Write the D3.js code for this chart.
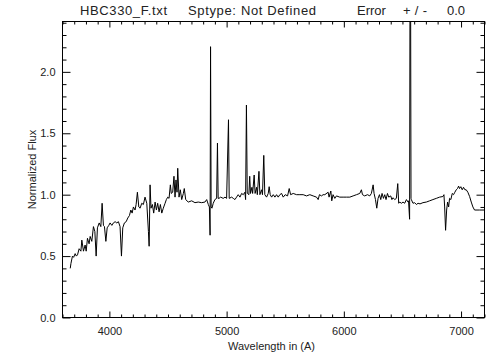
<!DOCTYPE html>
<html>
<head>
<meta charset="utf-8">
<script src="https://cdn.jsdelivr.net/npm/d3@7"></script>
<style>
  html, body { margin: 0; padding: 0; background: #fff; }
  svg { display: block; font-family: "Liberation Sans", Arial, Helvetica, sans-serif; }
</style>
</head>
<body>
<svg id="chart" width="504" height="360"></svg>
<script>
// ---- data ----
const titleParts = ["HBC330_F.txt", "Sptype: Not Defined", "Error", "+/-", "0.0"];
const xLabel = "Wavelength in (A)";
const yLabel = "Normalized Flux";
const xMajorTicks = [4000, 5000, 6000, 7000];
const yMajorTicks = [0.0, 0.5, 1.0, 1.5, 2.0];

const wavelength = [
  3666,3672,3685,3695,3708,3718,3728,3742,3757,3765,3779,3793,3802,3813,3827,3836,3850,3864,3876,3887,
  3898,3913,3927,3938,3949,3958,3970,3981,3995,4006,4021,4034,4049,4063,4077,4091,4103,4114,4128,4143,
  4157,4171,4183,4194,4205,4219,4228,4239,4251,4262,4276,4290,4304,4319,4333,4339,4347,4355,4367,4378,
  4390,4401,4412,4424,4435,4447,4460,4475,4486,4498,4509,4520,4528,4540,4551,4560,4568,4577,4583,4594,
  4605,4617,4631,4639,4651,4673,4702,4730,4758,4787,4815,4830,4844,4853,4859,4863,4868,4875,4886,4900,
  4915,4922,4928,4935,4949,4971,4986,5000,5016,5022,5043,5057,5071,5085,5099,5114,5128,5142,5156,5162,
  5169,5176,5179,5190,5197,5204,5216,5222,5235,5243,5256,5262,5276,5284,5298,5306,5317,5326,5341,5355,
  5363,5372,5384,5398,5412,5426,5440,5454,5469,5483,5500,5520,5534,5546,5568,5597,5625,5653,5682,5710,
  5738,5767,5781,5792,5810,5823,5838,5866,5874,5889,5897,5908,5923,5937,5965,5994,6022,6051,6079,6108,
  6136,6150,6159,6178,6202,6221,6235,6250,6258,6270,6281,6292,6304,6315,6326,6338,6349,6360,6372,6383,
  6400,6410,6420,6434,6448,6460,6468,6477,6491,6505,6519,6534,6548,6552,6561,6567,6573,6576,6590,6604,
  6619,6633,6650,6675,6704,6732,6760,6789,6817,6845,6854,6860,6868,6877,6885,6894,6902,6913,6925,6936,
  6947,6959,6970,6979,6987,6998,7010,7021,7033,7044,7058,7073,7087,7101,7115,7157,7198
];
const flux = [
  0.40,0.44,0.50,0.49,0.52,0.50,0.51,0.56,0.54,0.63,0.54,0.59,0.54,0.645,0.60,0.66,0.62,0.74,0.70,0.50,
  0.73,0.77,0.74,0.93,0.75,0.74,0.62,0.73,0.75,0.77,0.75,0.77,0.78,0.77,0.78,0.74,0.50,0.73,0.77,0.78,
  0.81,0.83,0.875,0.85,0.90,0.875,0.92,1.02,0.90,0.89,0.93,0.92,0.98,0.93,0.70,0.58,1.08,0.89,0.92,0.85,
  0.94,0.875,0.93,0.86,0.92,0.85,0.89,0.93,0.96,0.98,0.97,1.08,1.01,1.02,1.15,0.98,1.12,1.02,1.215,0.98,
  1.04,0.96,1.01,1.05,0.96,0.94,0.95,0.935,0.94,0.935,0.94,0.96,0.92,0.90,0.67,2.205,0.90,0.89,0.93,0.96,
  0.97,1.42,0.97,0.97,0.98,0.97,0.98,0.97,1.61,0.97,0.98,0.97,0.96,0.98,1.00,0.98,1.01,1.00,1.02,0.96,
  1.73,1.01,1.01,1.00,1.15,1.01,1.06,1.01,1.16,1.01,1.06,1.00,1.19,1.00,1.04,1.00,1.32,1.00,0.98,1.01,
  1.065,1.00,0.98,1.00,0.98,1.00,0.98,1.00,1.01,0.98,1.00,0.99,1.05,1.00,1.01,1.00,1.00,1.00,0.99,1.00,
  0.99,0.98,0.96,1.00,0.99,1.00,1.00,1.02,0.98,1.03,0.95,1.00,0.97,0.99,0.98,0.98,0.98,0.98,0.99,1.00,
  1.01,1.04,1.00,0.99,1.00,0.99,1.01,1.08,1.01,0.96,0.89,0.97,1.00,0.96,1.01,0.97,1.00,0.96,1.01,0.98,
  0.99,0.96,0.975,0.96,0.97,1.09,0.93,0.94,0.93,0.94,0.93,0.96,0.94,0.95,0.80,4.00,0.97,0.96,0.93,0.935,
  0.92,0.93,0.925,0.935,0.94,0.95,0.96,0.97,0.98,0.985,1.00,0.90,0.71,0.875,0.94,0.90,0.97,0.96,1.01,1.00,
  1.02,1.04,1.05,1.07,1.05,1.065,1.04,1.06,1.04,1.04,1.02,0.985,0.94,0.90,0.875,0.875,0.875
];

// ---- layout ----
const svg = d3.select("#chart");
const L = 62.5, R = 484.5, T = 21.5, B = 317.5;
const x = d3.scaleLinear().domain([3600, 7200]).range([L, R]);
const y = d3.scaleLinear().domain([0, 2.41]).range([B, T]);

const xMinor = d3.range(3600, 7201, 100).filter(v => v % 1000 !== 0);
const yMinor = d3.range(0, 25).map(i => +(i * 0.1).toFixed(1)).filter(v => Math.abs(v * 2 - Math.round(v * 2)) > 1e-6);

const fontTick = 11;

function styleAxis(g) {
  g.select(".domain").remove();
  g.selectAll("line").attr("stroke", "#000").attr("stroke-width", 1);
  g.selectAll("text").attr("fill", "#222").attr("font-size", fontTick).attr("font-family", "Liberation Sans, Arial, sans-serif");
}

// bottom axis (major with labels, ticks inward)
svg.append("g").attr("transform", `translate(0,${B})`)
  .call(d3.axisBottom(x).tickValues(xMajorTicks).tickSize(-6).tickPadding(10).tickFormat(d3.format("d")))
  .call(styleAxis);
svg.append("g").attr("transform", `translate(0,${B})`)
  .call(d3.axisBottom(x).tickValues(xMinor).tickSize(-3).tickFormat(""))
  .call(styleAxis);
// top axis
svg.append("g").attr("transform", `translate(0,${T})`)
  .call(d3.axisTop(x).tickValues(xMajorTicks).tickSize(-6).tickFormat(""))
  .call(styleAxis);
svg.append("g").attr("transform", `translate(0,${T})`)
  .call(d3.axisTop(x).tickValues(xMinor).tickSize(-3).tickFormat(""))
  .call(styleAxis);
// left axis
svg.append("g").attr("transform", `translate(${L},0)`)
  .call(d3.axisLeft(y).tickValues(yMajorTicks).tickSize(-8).tickPadding(7).tickFormat(d3.format(".1f")))
  .call(styleAxis);
svg.append("g").attr("transform", `translate(${L},0)`)
  .call(d3.axisLeft(y).tickValues(yMinor).tickSize(-4).tickFormat(""))
  .call(styleAxis);
// right axis
svg.append("g").attr("transform", `translate(${R},0)`)
  .call(d3.axisRight(y).tickValues(yMajorTicks).tickSize(-8).tickFormat(""))
  .call(styleAxis);
svg.append("g").attr("transform", `translate(${R},0)`)
  .call(d3.axisRight(y).tickValues(yMinor).tickSize(-4).tickFormat(""))
  .call(styleAxis);

// frame
svg.append("rect").attr("x", L).attr("y", T).attr("width", R - L).attr("height", B - T)
  .attr("fill", "none").attr("stroke", "#000").attr("stroke-width", 1);

// spectrum
svg.append("clipPath").attr("id", "plotclip")
  .append("rect").attr("x", L).attr("y", T).attr("width", R - L).attr("height", B - T);

const pts = wavelength.map((w, i) => [w, flux[i]]);
const line = d3.line().x(d => x(d[0])).y(d => y(d[1]));
svg.append("path").datum(pts)
  .attr("clip-path", "url(#plotclip)")
  .attr("d", line)
  .attr("fill", "none").attr("stroke", "#000").attr("stroke-width", 1).attr("stroke-linejoin", "round");

// labels
svg.append("text").attr("x", (L + R) / 2 - 2).attr("y", 350).attr("text-anchor", "middle")
  .attr("fill", "#222").attr("font-size", 11).text(xLabel);
svg.append("text").attr("transform", `translate(36,${(T + B) / 2}) rotate(-90)`).attr("text-anchor", "middle")
  .attr("fill", "#222").attr("font-size", 11).text(yLabel);

// title
const titleX = [80, 188, 357, 403, 447];
const titleW = [87, 128, null, 24, null];
titleParts.forEach((t, i) => {
  const tx = svg.append("text").attr("x", titleX[i]).attr("y", 15).attr("font-size", 13)
    .attr("fill", "#222").text(t);
  if (titleW[i]) tx.attr("textLength", titleW[i]).attr("lengthAdjust", "spacing");
});
</script>
</body>
</html>
